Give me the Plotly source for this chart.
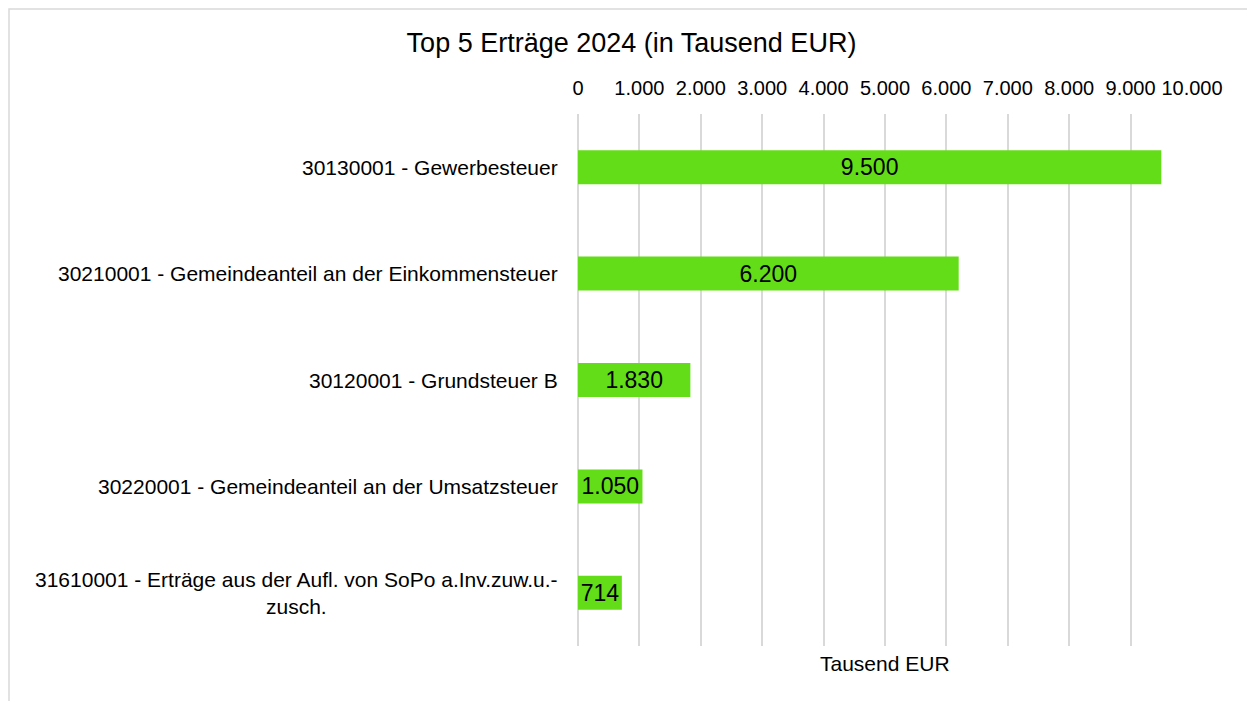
import plotly.graph_objects as go

categories = [
    "30130001 - Gewerbesteuer",
    "30210001 - Gemeindeanteil an der Einkommensteuer",
    "30120001 - Grundsteuer B",
    "30220001 - Gemeindeanteil an der Umsatzsteuer",
    "31610001 - Erträge aus der Aufl. von SoPo a.Inv.zuw.u.-<br>zusch.",
]
values = [9500, 6200, 1830, 1050, 714]
tick_values = [0, 1000, 2000, 3000, 4000, 5000, 6000, 7000, 8000, 9000, 10000]

# page has an 8px body margin; figure coordinates are page coordinates minus 8
OFF = 8
W, H = 1255 - OFF, 701 - OFF
L, T = 578 - OFF, 114 - OFF
PR, PB = 1192 - OFF, 646 - OFF
R, B = W - PR, H - PB
pw, ph = PR - L, PB - T
FONT = "Liberation Sans, Arial, sans-serif"

fig = go.Figure(go.Bar(
    x=values, y=categories, orientation="h",
    marker=dict(color="#63DD17", line=dict(width=0)),
    texttemplate="%{x:,d}", textposition="inside", insidetextanchor="middle",
    textfont=dict(family=FONT, size=23, color="#000000"),
    hoverinfo="skip",
))

annotations = []
for c in categories:
    annotations.append(dict(
        x=0, xref="paper", y=c, yref="y", xanchor="right", xshift=-18,
        text=c, showarrow=False, align="center",
        font=dict(family=FONT, size=21, color="#000000"),
    ))
annotations.append(dict(
    x=0.5, xref="paper", y=(PB - (663 - OFF)) / ph, yref="paper", yanchor="middle",
    text="Tausend EUR", showarrow=False,
    font=dict(family=FONT, size=21, color="#000000"),
))

def px_x(p):
    return (p - L) / pw

def px_y(p):
    return (PB - p) / ph

fig.update_layout(
    width=W, height=H,
    margin=dict(l=L, r=R, t=T, b=B, pad=0),
    paper_bgcolor="white", plot_bgcolor="white",
    separators=",.",
    showlegend=False,
    bargap=0.68,
    title=dict(text="Top 5 Erträge 2024 (in Tausend EUR)", x=0.5, xanchor="center",
               xref="container", y=1 - (43 - OFF) / H, yref="container", yanchor="middle",
               font=dict(family=FONT, size=27, color="#000000")),
    xaxis=dict(side="top", range=[0, 10000], tickvals=tick_values, tickformat=",d",
               showgrid=True, gridcolor="#D9D9D9", gridwidth=1.5,
               zeroline=True, zerolinecolor="#D9D9D9", zerolinewidth=1.5,
               showline=False, ticks="outside", ticklen=10, tickcolor="rgba(0,0,0,0)",
               tickfont=dict(family=FONT, size=20, color="#000000"), fixedrange=True),
    yaxis=dict(autorange="reversed", showticklabels=False, showgrid=False,
               zeroline=False, showline=False, fixedrange=True),
    uniformtext=dict(minsize=23, mode="show"),
    annotations=annotations,
    shapes=[dict(type="rect", xref="paper", yref="paper",
                 x0=px_x(1), x1=px_x(1250 - OFF), y0=px_y(H + 20), y1=px_y(1),
                 line=dict(color="#D9D9D9", width=1.5), fillcolor="rgba(0,0,0,0)",
                 layer="below")],
)

fig.write_html("out.html")
